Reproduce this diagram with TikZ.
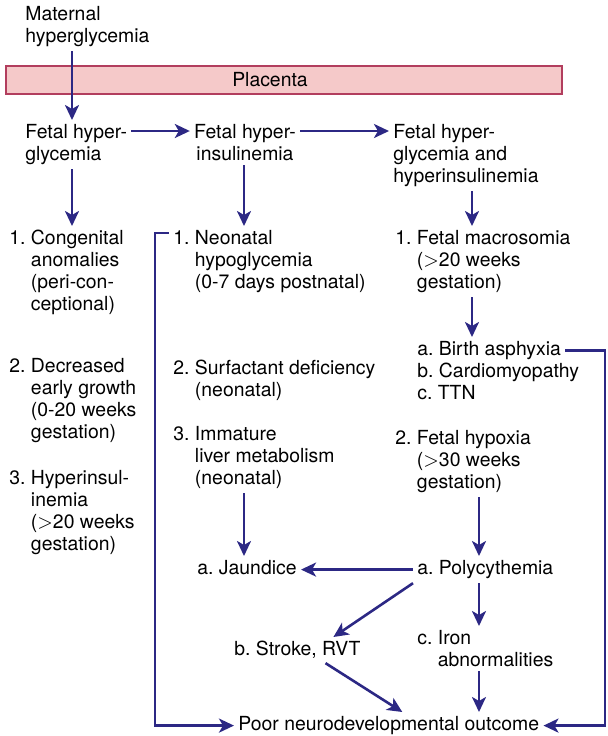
\documentclass[tikz,border=0pt]{standalone}
\usepackage{fontspec}
\setmainfont{TeX Gyre Heros}
\usetikzlibrary{arrows.meta}
\definecolor{arrowblue}{RGB}{44,40,132}
\definecolor{placentafill}{RGB}{245,201,201}
\definecolor{placentaline}{RGB}{178,62,94}
\newcommand{\ind}{\hphantom{1. }}
\frenchspacing

\tikzset{%
  every entry/.style={
    anchor=north west,
    align=left,
    inner sep=2pt,
    font=\fontsize{9.7}{11}\selectfont
  },
  placenta box/.style={
    draw=placentaline,
    fill=placentafill,
    line width=1.2pt,
    minimum width=278pt,
    minimum height=14pt,
    inner sep=0pt,
    font=\fontsize{9.7}{11}\selectfont
  },
  flow arrow/.style={
    draw=arrowblue,
    line width=1.3pt,
    -{Stealth[length=7.5pt,width=7pt,inset=2pt]}
  },
}

\begin{document}
\begin{tikzpicture}[x=0.5pt,y=-0.5pt]
  \useasboundingbox (0,0) rectangle (608,736);
  \coordinate (c1) at (72,0);
  \coordinate (c2) at (244,0);
  \coordinate (c3) at (472,0);
  \coordinate (c4) at (479,0);
  \coordinate (r1) at (0,131);
  \coordinate (lb) at (155,233);
  \coordinate (rb) at (605,0);
  \node [placenta box] (pla) at (284,80) {Placenta\hspace*{14pt}};
  \node [every entry] (mat) at (21,2) {Maternal\\hyperglycemia};
  \node [every entry] (fhg) at (21,120) {Fetal hyper-\\glycemia};
  \node [every entry, anchor=north, align=center] (fhi) at (245,120) {Fetal hyper-\\insulinemia};
  \node [every entry] (fh3) at (389,120) {Fetal hyper-\\glycemia and\\hyperinsulinemia};
  \node [every entry] (ca) at (5,226) {1. Congenital\\\ind anomalies\\\ind (peri-con-\\\ind ceptional)};
  \node [every entry] (dg) at (5,354) {2. Decreased\\\ind early growth\\\ind (0-20 weeks\\\ind gestation)};
  \node [every entry] (hi) at (5,466) {3. Hyperinsul-\\\ind inemia\\\ind ($>$20 weeks\\\ind gestation)};
  \node [every entry] (neo) at (169,226) {1. Neonatal\\\ind hypoglycemia\\\ind (0-7 days postnatal)};
  \node [every entry] (sur) at (169,356) {2. Surfactant deficiency\\\ind (neonatal)};
  \node [every entry] (imm) at (169,422) {3. Immature\\\ind liver metabolism\\\ind (neonatal)};
  \node [every entry] (mac) at (391,226) {1. Fetal macrosomia\\\ind ($>$20 weeks\\\ind gestation)};
  \node [every entry] (asp) at (413,337) {a. Birth asphyxia};
  \node [every entry] (car) at (413,359) {b. Cardiomyopathy};
  \node [every entry] (ttn) at (413,381) {c. TTN};
  \node [every entry] (hyp) at (391,426) {2. Fetal hypoxia\\\ind ($>$30 weeks\\\ind gestation)};
  \node [every entry] (jau) at (193,556) {a. Jaundice};
  \node [every entry] (pol) at (413,556) {a. Polycythemia};
  \node [every entry] (str) at (230,637) {b. Stroke, RVT};
  \node [every entry] (iro) at (413,626) {c. Iron\\\hphantom{c. }abnormalities};
  \node [every entry] (poo) at (234,712) {Poor neurodevelopmental outcome};
\draw [flow arrow] (mat.south -| c1) -- (fhg.north -| c1);
\draw [flow arrow] (fhg.east |- r1) -- (fhi.west |- r1);
\draw [flow arrow] (fhi.east |- r1) -- (fh3.west |- r1);
\draw [flow arrow] (fhg.south -| c1) -- (ca.north -| c1);
\draw [flow arrow] (fhi.south -| c2) -- (neo.north -| c2);
\draw [flow arrow] (fh3.south -| c3) -- (mac.north -| c3);
\draw [flow arrow] (mac.south -| c3) -- (asp.north -| c3);
\draw [flow arrow] (imm.south -| c2) -- (jau.north -| c2);
\draw [flow arrow] (hyp.south -| c4) -- (pol.north -| c4);
\draw [flow arrow] (pol.west) -- (jau.east |- pol.west);
\draw [flow arrow] (pol.south west) -- (str.20);
\draw [flow arrow] (pol.south -| c4) -- (iro.north -| c4);
\draw [flow arrow] (str.-25) -- (poo.45);
\draw [flow arrow] (iro.south -| c4) -- (poo.north -| c4);
\draw [flow arrow] (neo.north west |- lb) -- (lb) |- (poo.west);
\draw [flow arrow] (asp.east) -- (asp.east -| rb) |- (poo.east);
\end{tikzpicture}
\end{document}
